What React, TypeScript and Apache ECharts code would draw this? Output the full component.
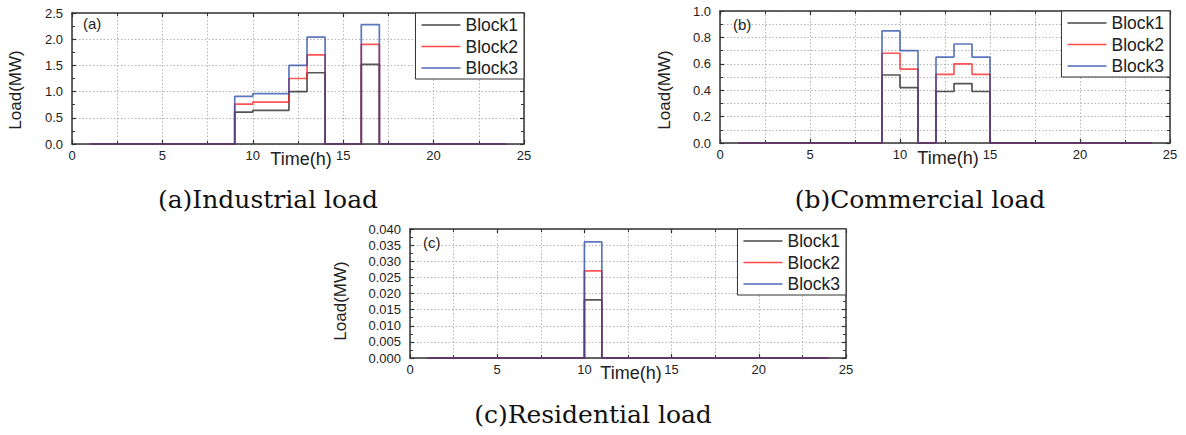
import React, { useEffect, useRef } from "react";
import * as echarts from "echarts";

const hours = [1, 2, 3, 4, 5, 6, 7, 8, 9, 10, 11, 12, 13, 14, 15, 16, 17, 18, 19, 20, 21, 22, 23, 24];
const seriesNames = ["Block1", "Block2", "Block3"];

const industrialB1 = [0, 0, 0, 0, 0, 0, 0, 0, 0.61, 0.64, 0.64, 1.0, 1.36, 0, 0, 1.52, 0, 0, 0, 0, 0, 0, 0, 0];
const industrialB2 = [0, 0, 0, 0, 0, 0, 0, 0, 0.76, 0.8, 0.8, 1.25, 1.7, 0, 0, 1.9, 0, 0, 0, 0, 0, 0, 0, 0];
const industrialB3 = [0, 0, 0, 0, 0, 0, 0, 0, 0.91, 0.96, 0.96, 1.5, 2.04, 0, 0, 2.28, 0, 0, 0, 0, 0, 0, 0, 0];

const commercialB1 = [0, 0, 0, 0, 0, 0, 0, 0, 0.515, 0.42, 0, 0.39, 0.45, 0.39, 0, 0, 0, 0, 0, 0, 0, 0, 0, 0];
const commercialB2 = [0, 0, 0, 0, 0, 0, 0, 0, 0.68, 0.56, 0, 0.52, 0.6, 0.52, 0, 0, 0, 0, 0, 0, 0, 0, 0, 0];
const commercialB3 = [0, 0, 0, 0, 0, 0, 0, 0, 0.85, 0.7, 0, 0.65, 0.75, 0.65, 0, 0, 0, 0, 0, 0, 0, 0, 0, 0];

const residentialB1 = [0, 0, 0, 0, 0, 0, 0, 0, 0, 0.018, 0, 0, 0, 0, 0, 0, 0, 0, 0, 0, 0, 0, 0, 0];
const residentialB2 = [0, 0, 0, 0, 0, 0, 0, 0, 0, 0.027, 0, 0, 0, 0, 0, 0, 0, 0, 0, 0, 0, 0, 0, 0];
const residentialB3 = [0, 0, 0, 0, 0, 0, 0, 0, 0, 0.036, 0, 0, 0, 0, 0, 0, 0, 0, 0, 0, 0, 0, 0, 0];

const xTicks = { min: 0, max: 25, interval: 5 };
const yTicksA = { min: 0, max: 2.5, interval: 0.5, decimals: 1 };
const yTicksB = { min: 0, max: 1.0, interval: 0.2, decimals: 1 };
const yTicksC = { min: 0, max: 0.04, interval: 0.005, decimals: 3 };

const panelLabels = ["(a)", "(b)", "(c)"];
const captions = ["(a)Industrial load", "(b)Commercial load", "(c)Residential load"];
const xName = "Time(h)";
const yName = "Load(MW)";

const colors = ["#1a1a1a", "#ff1a1a", "#2447a8"];
const SANS = "Liberation Sans, Arial, sans-serif";

export default function App() {
  const ref = useRef<HTMLDivElement>(null);

  useEffect(() => {
    if (!ref.current) return;
    const chart = echarts.init(ref.current, undefined, { renderer: "svg" });

    const grids = [
      { left: 72, top: 13, width: 452, height: 131 },
      { left: 720, top: 11, width: 450, height: 132 },
      { left: 410, top: 229, width: 436, height: 129 },
    ];
    const yCfgs = [yTicksA, yTicksB, yTicksC];
    const yMinorGrid = [false, true, false];
    const data = [
      [industrialB1, industrialB2, industrialB3],
      [commercialB1, commercialB2, commercialB3],
      [residentialB1, residentialB2, residentialB3],
    ];

    const axisLine = { show: true, onZero: false, lineStyle: { color: "#333", width: 1.5 } };
    const tickIn = { show: true, inside: true, length: 4, lineStyle: { color: "#333", width: 1.2 } };
    const minorIn = { show: true, inside: true, splitNumber: 2, length: 3, lineStyle: { color: "#333", width: 1 } };
    const gridLine = { show: true, lineStyle: { color: "#b5b5b5", width: 1, type: [1.5, 2] } };

    const xAxis: any[] = [];
    const yAxis: any[] = [];
    const series: any[] = [];
    const legend: any[] = [];
    const graphic: any[] = [];

    grids.forEach((g, p) => {
      xAxis.push({
        type: "value",
        gridIndex: p,
        position: "bottom",
        min: xTicks.min,
        max: xTicks.max,
        interval: xTicks.interval,
        axisLine,
        axisTick: tickIn,
        minorTick: minorIn,
        splitLine: gridLine,
        minorSplitLine: gridLine,
        axisLabel: { fontSize: 13, margin: 5, color: "#222", fontFamily: SANS },
        name: xName,
        nameLocation: "middle",
        nameGap: 6,
        nameMoveOverlap: false,
        nameTextStyle: { fontSize: 18, color: "#222", fontFamily: SANS, padding: [0, 0, 0, 6] },
      });
      xAxis.push({
        type: "value",
        gridIndex: p,
        position: "top",
        min: xTicks.min,
        max: xTicks.max,
        interval: xTicks.interval,
        axisLine,
        axisTick: tickIn,
        minorTick: minorIn,
        splitLine: { show: false },
        axisLabel: { show: false },
      });
      const yc = yCfgs[p];
      yAxis.push({
        type: "value",
        gridIndex: p,
        position: "left",
        min: yc.min,
        max: yc.max,
        interval: yc.interval,
        axisLine,
        axisTick: tickIn,
        minorTick: minorIn,
        splitLine: gridLine,
        minorSplitLine: { ...gridLine, show: yMinorGrid[p] },
        axisLabel: {
          fontSize: 13,
          margin: 9,
          color: "#222",
          fontFamily: SANS,
          formatter: (v: number) => v.toFixed(yc.decimals),
        },
      });
      yAxis.push({
        type: "value",
        gridIndex: p,
        position: "right",
        min: yc.min,
        max: yc.max,
        interval: yc.interval,
        axisLine,
        axisTick: tickIn,
        minorTick: minorIn,
        splitLine: { show: false },
        axisLabel: { show: false },
      });

      data[p].forEach((vals, k) => {
        series.push({
          type: "line",
          name: seriesNames[k],
          xAxisIndex: p * 2,
          yAxisIndex: p * 2,
          step: "end",
          symbol: "none",
          showSymbol: false,
          color: colors[k],
          lineStyle: { color: colors[k], width: 1.7, opacity: 0.74 },
          data: hours.map((h, i) => [h, vals[i]]),
          z: 3 + k,
        });
      });

      legend.push({
        orient: "vertical",
        right: 1186 - (g.left + g.width),
        top: g.top,
        data: seriesNames.map((n) => ({ name: n, icon: "rect" })),
        itemWidth: 39,
        itemHeight: 1.5,
        itemGap: 3.5,
        padding: [3, 6, 2, 6],
        borderColor: "#333",
        borderWidth: 1,
        borderRadius: 0,
        backgroundColor: "#fff",
        selectedMode: false,
        itemStyle: { opacity: 0.8 },
        textStyle: { fontSize: 17.5, color: "#222", fontFamily: SANS, lineHeight: 17 },
      });
    });

    const labelPos = [
      [83, 23],
      [733, 24],
      [423, 242],
    ];
    labelPos.forEach(([x, y], p) => {
      graphic.push({
        type: "text",
        x,
        y,
        z: 10,
        style: { text: panelLabels[p], fontSize: 15, fill: "#222", fontFamily: SANS, textAlign: "left", textVerticalAlign: "middle" },
      });
    });
    const yNamePos = [
      [15, 90],
      [664, 90],
      [340, 301],
    ];
    yNamePos.forEach(([x, y]) => {
      graphic.push({
        type: "text",
        x,
        y,
        rotation: Math.PI / 2,
        style: { text: yName, fontSize: 17, fill: "#222", fontFamily: SANS, textAlign: "center", textVerticalAlign: "middle" },
      });
    });
    const capPos = [
      [268, 199],
      [920, 199],
      [593, 414],
    ];
    capPos.forEach(([x, y], p) => {
      graphic.push({
        type: "text",
        x,
        y,
        style: { text: captions[p], fontSize: 25, fill: "#111", fontFamily: "DejaVu Serif, serif", textAlign: "center", textVerticalAlign: "middle" },
      });
    });

    chart.setOption({
      animation: false,
      backgroundColor: "#fff",
      grid: grids.map((g) => ({ ...g, containLabel: false })),
      xAxis,
      yAxis,
      series,
      legend,
      graphic,
    });

    return () => chart.dispose();
  }, []);

  return (
    <div
      ref={ref}
      style={{ position: "fixed", left: 0, top: 0, width: 1186, height: 435, background: "#fff" }}
    />
  );
}
